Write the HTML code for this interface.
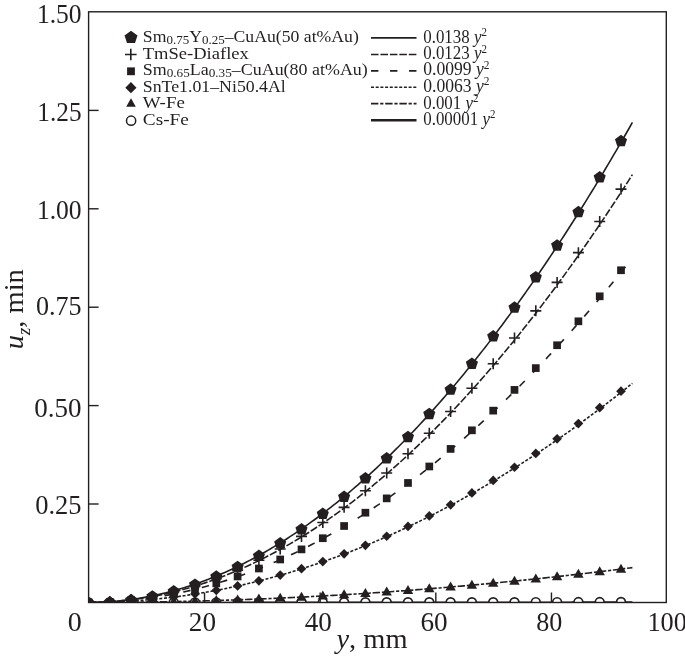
<!DOCTYPE html>
<html><head><meta charset="utf-8"><style>
html,body{margin:0;padding:0;background:#fff;}
svg{display:block;will-change:transform;}
text{font-family:"Liberation Serif",serif;fill:#231f20;}
</style></head><body>
<svg width="685" height="656" viewBox="0 0 685 656">
<defs><clipPath id="pc"><rect x="88.6" y="11.8" width="577.6999999999999" height="590.7"/></clipPath></defs>
<g clip-path="url(#pc)" fill="#231f20">
<path d="M88.90,602.40 L91.62,602.39 L94.34,602.35 L97.05,602.29 L99.77,602.21 L102.49,602.10 L105.21,601.97 L107.92,601.81 L110.64,601.63 L113.36,601.43 L116.08,601.20 L118.79,600.95 L121.51,600.67 L124.23,600.37 L126.95,600.05 L129.66,599.70 L132.38,599.33 L135.10,598.93 L137.82,598.51 L140.53,598.07 L143.25,597.60 L145.97,597.11 L148.69,596.59 L151.40,596.05 L154.12,595.49 L156.84,594.90 L159.56,594.29 L162.27,593.65 L164.99,592.99 L167.71,592.31 L170.43,591.60 L173.14,590.87 L175.86,590.11 L178.58,589.33 L181.30,588.53 L184.01,587.70 L186.73,586.85 L189.45,585.97 L192.17,585.07 L194.88,584.15 L197.60,583.20 L200.32,582.23 L203.04,581.23 L205.75,580.21 L208.47,579.17 L211.19,578.10 L213.91,577.01 L216.62,575.90 L219.34,574.76 L222.06,573.59 L224.78,572.40 L227.49,571.19 L230.21,569.96 L232.93,568.70 L235.65,567.41 L238.36,566.10 L241.08,564.77 L243.80,563.42 L246.52,562.04 L249.23,560.63 L251.95,559.21 L254.67,557.75 L257.39,556.28 L260.11,554.78 L262.82,553.25 L265.54,551.71 L268.26,550.13 L270.98,548.54 L273.69,546.92 L276.41,545.27 L279.13,543.61 L281.85,541.92 L284.56,540.20 L287.28,538.46 L290.00,536.70 L292.72,534.91 L295.43,533.10 L298.15,531.26 L300.87,529.40 L303.59,527.52 L306.30,525.61 L309.02,523.68 L311.74,521.72 L314.46,519.74 L317.17,517.74 L319.89,515.71 L322.61,513.66 L325.33,511.58 L328.04,509.48 L330.76,507.36 L333.48,505.21 L336.20,503.04 L338.91,500.84 L341.63,498.62 L344.35,496.38 L347.07,494.11 L349.78,491.82 L352.50,489.51 L355.22,487.17 L357.94,484.80 L360.65,482.41 L363.37,480.00 L366.09,477.57 L368.81,475.11 L371.52,472.62 L374.24,470.12 L376.96,467.58 L379.68,465.03 L382.39,462.45 L385.11,459.84 L387.83,457.22 L390.55,454.57 L393.26,451.89 L395.98,449.19 L398.70,446.47 L401.42,443.72 L404.13,440.95 L406.85,438.15 L409.57,435.33 L412.29,432.49 L415.00,429.62 L417.72,426.73 L420.44,423.81 L423.16,420.87 L425.87,417.91 L428.59,414.92 L431.31,411.91 L434.03,408.87 L436.75,405.82 L439.46,402.73 L442.18,399.62 L444.90,396.49 L447.62,393.34 L450.33,390.16 L453.05,386.95 L455.77,383.73 L458.49,380.47 L461.20,377.20 L463.92,373.90 L466.64,370.58 L469.36,367.23 L472.07,363.86 L474.79,360.46 L477.51,357.04 L480.23,353.60 L482.94,350.13 L485.66,346.64 L488.38,343.12 L491.10,339.58 L493.81,336.02 L496.53,332.43 L499.25,328.82 L501.97,325.18 L504.68,321.53 L507.40,317.84 L510.12,314.13 L512.84,310.40 L515.55,306.65 L518.27,302.87 L520.99,299.06 L523.71,295.24 L526.42,291.38 L529.14,287.51 L531.86,283.61 L534.58,279.69 L537.29,275.74 L540.01,271.77 L542.73,267.77 L545.45,263.75 L548.16,259.71 L550.88,255.64 L553.60,251.55 L556.32,247.43 L559.03,243.29 L561.75,239.13 L564.47,234.94 L567.19,230.73 L569.90,226.50 L572.62,222.24 L575.34,217.95 L578.06,213.65 L580.77,209.31 L583.49,204.96 L586.21,200.58 L588.93,196.18 L591.64,191.75 L594.36,187.30 L597.08,182.82 L599.80,178.32 L602.52,173.80 L605.23,169.25 L607.95,164.68 L610.67,160.08 L613.39,155.46 L616.10,150.82 L618.82,146.15 L621.54,141.46 L624.26,136.75 L626.97,132.01 L629.69,127.24 L632.41,122.46" fill="none" stroke="#231f20" stroke-width="1.6"/>
<path d="M88.90,602.40 L91.62,602.39 L94.34,602.36 L97.05,602.30 L99.77,602.23 L102.49,602.13 L105.21,602.02 L107.92,601.88 L110.64,601.72 L113.36,601.53 L116.08,601.33 L118.79,601.11 L121.51,600.86 L124.23,600.59 L126.95,600.30 L129.66,599.99 L132.38,599.66 L135.10,599.31 L137.82,598.94 L140.53,598.54 L143.25,598.12 L145.97,597.68 L148.69,597.22 L151.40,596.74 L154.12,596.24 L156.84,595.72 L159.56,595.17 L162.27,594.60 L164.99,594.02 L167.71,593.41 L170.43,592.78 L173.14,592.12 L175.86,591.45 L178.58,590.75 L181.30,590.04 L184.01,589.30 L186.73,588.54 L189.45,587.76 L192.17,586.96 L194.88,586.13 L197.60,585.29 L200.32,584.42 L203.04,583.54 L205.75,582.63 L208.47,581.70 L211.19,580.74 L213.91,579.77 L216.62,578.78 L219.34,577.76 L222.06,576.72 L224.78,575.66 L227.49,574.58 L230.21,573.48 L232.93,572.36 L235.65,571.22 L238.36,570.05 L241.08,568.86 L243.80,567.65 L246.52,566.42 L249.23,565.17 L251.95,563.90 L254.67,562.61 L257.39,561.29 L260.11,559.95 L262.82,558.60 L265.54,557.22 L268.26,555.82 L270.98,554.39 L273.69,552.95 L276.41,551.48 L279.13,550.00 L281.85,548.49 L284.56,546.96 L287.28,545.41 L290.00,543.84 L292.72,542.24 L295.43,540.63 L298.15,538.99 L300.87,537.34 L303.59,535.66 L306.30,533.96 L309.02,532.23 L311.74,530.49 L314.46,528.73 L317.17,526.94 L319.89,525.13 L322.61,523.30 L325.33,521.45 L328.04,519.58 L330.76,517.69 L333.48,515.78 L336.20,513.84 L338.91,511.88 L341.63,509.90 L344.35,507.90 L347.07,505.88 L349.78,503.84 L352.50,501.78 L355.22,499.69 L357.94,497.58 L360.65,495.46 L363.37,493.31 L366.09,491.14 L368.81,488.94 L371.52,486.73 L374.24,484.49 L376.96,482.24 L379.68,479.96 L382.39,477.66 L385.11,475.34 L387.83,473.00 L390.55,470.63 L393.26,468.25 L395.98,465.84 L398.70,463.42 L401.42,460.97 L404.13,458.50 L406.85,456.00 L409.57,453.49 L412.29,450.96 L415.00,448.40 L417.72,445.82 L420.44,443.22 L423.16,440.60 L425.87,437.96 L428.59,435.30 L431.31,432.62 L434.03,429.91 L436.75,427.18 L439.46,424.43 L442.18,421.66 L444.90,418.87 L447.62,416.06 L450.33,413.23 L453.05,410.37 L455.77,407.49 L458.49,404.60 L461.20,401.68 L463.92,398.74 L466.64,395.77 L469.36,392.79 L472.07,389.78 L474.79,386.76 L477.51,383.71 L480.23,380.64 L482.94,377.55 L485.66,374.44 L488.38,371.30 L491.10,368.15 L493.81,364.97 L496.53,361.78 L499.25,358.56 L501.97,355.32 L504.68,352.06 L507.40,348.77 L510.12,345.47 L512.84,342.14 L515.55,338.79 L518.27,335.43 L520.99,332.04 L523.71,328.62 L526.42,325.19 L529.14,321.74 L531.86,318.26 L534.58,314.76 L537.29,311.25 L540.01,307.71 L542.73,304.14 L545.45,300.56 L548.16,296.96 L550.88,293.33 L553.60,289.69 L556.32,286.02 L559.03,282.33 L561.75,278.62 L564.47,274.88 L567.19,271.13 L569.90,267.36 L572.62,263.56 L575.34,259.74 L578.06,255.90 L580.77,252.04 L583.49,248.16 L586.21,244.26 L588.93,240.33 L591.64,236.38 L594.36,232.42 L597.08,228.43 L599.80,224.42 L602.52,220.39 L605.23,216.33 L607.95,212.26 L610.67,208.16 L613.39,204.04 L616.10,199.91 L618.82,195.75 L621.54,191.56 L624.26,187.36 L626.97,183.14 L629.69,178.89 L632.41,174.62" fill="none" stroke="#231f20" stroke-width="1.6" stroke-dasharray="7.55 1.9"/>
<path d="M88.90,602.40 L91.62,602.39 L94.34,602.37 L97.05,602.32 L99.77,602.26 L102.49,602.18 L105.21,602.09 L107.92,601.98 L110.64,601.85 L113.36,601.70 L116.08,601.54 L118.79,601.36 L121.51,601.16 L124.23,600.95 L126.95,600.71 L129.66,600.46 L132.38,600.20 L135.10,599.91 L137.82,599.61 L140.53,599.29 L143.25,598.96 L145.97,598.60 L148.69,598.23 L151.40,597.85 L154.12,597.44 L156.84,597.02 L159.56,596.58 L162.27,596.13 L164.99,595.65 L167.71,595.16 L170.43,594.65 L173.14,594.13 L175.86,593.59 L178.58,593.03 L181.30,592.45 L184.01,591.86 L186.73,591.24 L189.45,590.62 L192.17,589.97 L194.88,589.31 L197.60,588.63 L200.32,587.93 L203.04,587.22 L205.75,586.48 L208.47,585.74 L211.19,584.97 L213.91,584.19 L216.62,583.39 L219.34,582.57 L222.06,581.73 L224.78,580.88 L227.49,580.01 L230.21,579.12 L232.93,578.22 L235.65,577.30 L238.36,576.36 L241.08,575.41 L243.80,574.43 L246.52,573.44 L249.23,572.44 L251.95,571.41 L254.67,570.37 L257.39,569.31 L260.11,568.24 L262.82,567.14 L265.54,566.03 L268.26,564.90 L270.98,563.76 L273.69,562.60 L276.41,561.42 L279.13,560.22 L281.85,559.01 L284.56,557.78 L287.28,556.53 L290.00,555.26 L292.72,553.98 L295.43,552.68 L298.15,551.37 L300.87,550.03 L303.59,548.68 L306.30,547.31 L309.02,545.93 L311.74,544.52 L314.46,543.10 L317.17,541.66 L319.89,540.21 L322.61,538.74 L325.33,537.25 L328.04,535.74 L330.76,534.22 L333.48,532.68 L336.20,531.12 L338.91,529.54 L341.63,527.95 L344.35,526.34 L347.07,524.72 L349.78,523.07 L352.50,521.41 L355.22,519.73 L357.94,518.04 L360.65,516.32 L363.37,514.59 L366.09,512.85 L368.81,511.08 L371.52,509.30 L374.24,507.50 L376.96,505.68 L379.68,503.85 L382.39,502.00 L385.11,500.13 L387.83,498.25 L390.55,496.34 L393.26,494.43 L395.98,492.49 L398.70,490.53 L401.42,488.56 L404.13,486.58 L406.85,484.57 L409.57,482.55 L412.29,480.51 L415.00,478.45 L417.72,476.37 L420.44,474.28 L423.16,472.17 L425.87,470.05 L428.59,467.91 L431.31,465.74 L434.03,463.57 L436.75,461.37 L439.46,459.16 L442.18,456.93 L444.90,454.68 L447.62,452.42 L450.33,450.14 L453.05,447.84 L455.77,445.53 L458.49,443.19 L461.20,440.84 L463.92,438.48 L466.64,436.09 L469.36,433.69 L472.07,431.27 L474.79,428.83 L477.51,426.38 L480.23,423.91 L482.94,421.42 L485.66,418.92 L488.38,416.40 L491.10,413.86 L493.81,411.30 L496.53,408.73 L499.25,406.14 L501.97,403.53 L504.68,400.90 L507.40,398.26 L510.12,395.60 L512.84,392.92 L515.55,390.23 L518.27,387.52 L520.99,384.79 L523.71,382.04 L526.42,379.28 L529.14,376.50 L531.86,373.70 L534.58,370.89 L537.29,368.06 L540.01,365.21 L542.73,362.34 L545.45,359.46 L548.16,356.56 L550.88,353.64 L553.60,350.70 L556.32,347.75 L559.03,344.78 L561.75,341.79 L564.47,338.79 L567.19,335.77 L569.90,332.73 L572.62,329.67 L575.34,326.60 L578.06,323.51 L580.77,320.40 L583.49,317.28 L586.21,314.14 L588.93,310.98 L591.64,307.80 L594.36,304.61 L597.08,301.40 L599.80,298.17 L602.52,294.93 L605.23,291.66 L607.95,288.38 L610.67,285.09 L613.39,281.77 L616.10,278.44 L618.82,275.09 L621.54,271.73 L624.26,268.34 L626.97,264.94 L629.69,261.53 L632.41,258.09" fill="none" stroke="#231f20" stroke-width="1.6" stroke-dasharray="7.4 11.63"/>
<path d="M88.90,602.40 L91.62,602.39 L94.34,602.38 L97.05,602.35 L99.77,602.31 L102.49,602.26 L105.21,602.20 L107.92,602.13 L110.64,602.05 L113.36,601.96 L116.08,601.85 L118.79,601.74 L121.51,601.61 L124.23,601.47 L126.95,601.33 L129.66,601.17 L132.38,601.00 L135.10,600.82 L137.82,600.63 L140.53,600.42 L143.25,600.21 L145.97,599.98 L148.69,599.75 L151.40,599.50 L154.12,599.24 L156.84,598.98 L159.56,598.70 L162.27,598.41 L164.99,598.11 L167.71,597.79 L170.43,597.47 L173.14,597.14 L175.86,596.79 L178.58,596.43 L181.30,596.07 L184.01,595.69 L186.73,595.30 L189.45,594.90 L192.17,594.49 L194.88,594.07 L197.60,593.64 L200.32,593.19 L203.04,592.74 L205.75,592.27 L208.47,591.80 L211.19,591.31 L213.91,590.81 L216.62,590.30 L219.34,589.78 L222.06,589.25 L224.78,588.71 L227.49,588.15 L230.21,587.59 L232.93,587.01 L235.65,586.43 L238.36,585.83 L241.08,585.22 L243.80,584.60 L246.52,583.97 L249.23,583.33 L251.95,582.68 L254.67,582.02 L257.39,581.34 L260.11,580.66 L262.82,579.96 L265.54,579.26 L268.26,578.54 L270.98,577.81 L273.69,577.07 L276.41,576.32 L279.13,575.56 L281.85,574.79 L284.56,574.00 L287.28,573.21 L290.00,572.40 L292.72,571.59 L295.43,570.76 L298.15,569.92 L300.87,569.07 L303.59,568.21 L306.30,567.34 L309.02,566.46 L311.74,565.57 L314.46,564.66 L317.17,563.75 L319.89,562.82 L322.61,561.89 L325.33,560.94 L328.04,559.98 L330.76,559.01 L333.48,558.03 L336.20,557.04 L338.91,556.04 L341.63,555.02 L344.35,554.00 L347.07,552.96 L349.78,551.92 L352.50,550.86 L355.22,549.79 L357.94,548.71 L360.65,547.62 L363.37,546.52 L366.09,545.41 L368.81,544.29 L371.52,543.15 L374.24,542.01 L376.96,540.85 L379.68,539.69 L382.39,538.51 L385.11,537.32 L387.83,536.12 L390.55,534.91 L393.26,533.69 L395.98,532.46 L398.70,531.21 L401.42,529.96 L404.13,528.69 L406.85,527.42 L409.57,526.13 L412.29,524.83 L415.00,523.52 L417.72,522.20 L420.44,520.87 L423.16,519.53 L425.87,518.18 L428.59,516.81 L431.31,515.44 L434.03,514.05 L436.75,512.65 L439.46,511.25 L442.18,509.83 L444.90,508.40 L447.62,506.96 L450.33,505.51 L453.05,504.04 L455.77,502.57 L458.49,501.09 L461.20,499.59 L463.92,498.08 L466.64,496.57 L469.36,495.04 L472.07,493.50 L474.79,491.95 L477.51,490.39 L480.23,488.82 L482.94,487.23 L485.66,485.64 L488.38,484.03 L491.10,482.42 L493.81,480.79 L496.53,479.15 L499.25,477.50 L501.97,475.85 L504.68,474.17 L507.40,472.49 L510.12,470.80 L512.84,469.10 L515.55,467.38 L518.27,465.66 L520.99,463.92 L523.71,462.17 L526.42,460.41 L529.14,458.65 L531.86,456.87 L534.58,455.07 L537.29,453.27 L540.01,451.46 L542.73,449.63 L545.45,447.80 L548.16,445.95 L550.88,444.10 L553.60,442.23 L556.32,440.35 L559.03,438.46 L561.75,436.56 L564.47,434.65 L567.19,432.73 L569.90,430.79 L572.62,428.85 L575.34,426.89 L578.06,424.93 L580.77,422.95 L583.49,420.96 L586.21,418.96 L588.93,416.95 L591.64,414.93 L594.36,412.90 L597.08,410.85 L599.80,408.80 L602.52,406.73 L605.23,404.66 L607.95,402.57 L610.67,400.47 L613.39,398.36 L616.10,396.24 L618.82,394.11 L621.54,391.97 L624.26,389.82 L626.97,387.66 L629.69,385.48 L632.41,383.30" fill="none" stroke="#231f20" stroke-width="1.6" stroke-dasharray="3 1.7"/>
<path d="M88.90,602.40 L91.62,602.40 L94.34,602.40 L97.05,602.39 L99.77,602.39 L102.49,602.38 L105.21,602.37 L107.92,602.36 L110.64,602.34 L113.36,602.33 L116.08,602.31 L118.79,602.29 L121.51,602.27 L124.23,602.25 L126.95,602.23 L129.66,602.20 L132.38,602.18 L135.10,602.15 L137.82,602.12 L140.53,602.09 L143.25,602.05 L145.97,602.02 L148.69,601.98 L151.40,601.94 L154.12,601.90 L156.84,601.86 L159.56,601.81 L162.27,601.77 L164.99,601.72 L167.71,601.67 L170.43,601.62 L173.14,601.56 L175.86,601.51 L178.58,601.45 L181.30,601.39 L184.01,601.33 L186.73,601.27 L189.45,601.21 L192.17,601.14 L194.88,601.08 L197.60,601.01 L200.32,600.94 L203.04,600.87 L205.75,600.79 L208.47,600.72 L211.19,600.64 L213.91,600.56 L216.62,600.48 L219.34,600.40 L222.06,600.31 L224.78,600.23 L227.49,600.14 L230.21,600.05 L232.93,599.96 L235.65,599.86 L238.36,599.77 L241.08,599.67 L243.80,599.58 L246.52,599.48 L249.23,599.37 L251.95,599.27 L254.67,599.16 L257.39,599.06 L260.11,598.95 L262.82,598.84 L265.54,598.73 L268.26,598.61 L270.98,598.50 L273.69,598.38 L276.41,598.26 L279.13,598.14 L281.85,598.02 L284.56,597.89 L287.28,597.77 L290.00,597.64 L292.72,597.51 L295.43,597.38 L298.15,597.24 L300.87,597.11 L303.59,596.97 L306.30,596.84 L309.02,596.70 L311.74,596.55 L314.46,596.41 L317.17,596.27 L319.89,596.12 L322.61,595.97 L325.33,595.82 L328.04,595.67 L330.76,595.51 L333.48,595.36 L336.20,595.20 L338.91,595.04 L341.63,594.88 L344.35,594.72 L347.07,594.55 L349.78,594.39 L352.50,594.22 L355.22,594.05 L357.94,593.88 L360.65,593.71 L363.37,593.53 L366.09,593.35 L368.81,593.18 L371.52,593.00 L374.24,592.81 L376.96,592.63 L379.68,592.45 L382.39,592.26 L385.11,592.07 L387.83,591.88 L390.55,591.69 L393.26,591.49 L395.98,591.30 L398.70,591.10 L401.42,590.90 L404.13,590.70 L406.85,590.50 L409.57,590.29 L412.29,590.09 L415.00,589.88 L417.72,589.67 L420.44,589.46 L423.16,589.25 L425.87,589.03 L428.59,588.81 L431.31,588.60 L434.03,588.38 L436.75,588.15 L439.46,587.93 L442.18,587.71 L444.90,587.48 L447.62,587.25 L450.33,587.02 L453.05,586.79 L455.77,586.55 L458.49,586.32 L461.20,586.08 L463.92,585.84 L466.64,585.60 L469.36,585.36 L472.07,585.11 L474.79,584.87 L477.51,584.62 L480.23,584.37 L482.94,584.12 L485.66,583.87 L488.38,583.61 L491.10,583.36 L493.81,583.10 L496.53,582.84 L499.25,582.58 L501.97,582.31 L504.68,582.05 L507.40,581.78 L510.12,581.51 L512.84,581.24 L515.55,580.97 L518.27,580.69 L520.99,580.42 L523.71,580.14 L526.42,579.86 L529.14,579.58 L531.86,579.30 L534.58,579.01 L537.29,578.73 L540.01,578.44 L542.73,578.15 L545.45,577.86 L548.16,577.57 L550.88,577.27 L553.60,576.98 L556.32,576.68 L559.03,576.38 L561.75,576.08 L564.47,575.77 L567.19,575.47 L569.90,575.16 L572.62,574.85 L575.34,574.54 L578.06,574.23 L580.77,573.92 L583.49,573.60 L586.21,573.28 L588.93,572.96 L591.64,572.64 L594.36,572.32 L597.08,572.00 L599.80,571.67 L602.52,571.34 L605.23,571.01 L607.95,570.68 L610.67,570.35 L613.39,570.01 L616.10,569.68 L618.82,569.34 L621.54,569.00 L624.26,568.66 L626.97,568.31 L629.69,567.97 L632.41,567.62" fill="none" stroke="#231f20" stroke-width="1.6" stroke-dasharray="7.4 1.8 3.2 1.8"/>
<path d="M88.90,602.90 L91.62,602.90 L94.34,602.90 L97.05,602.90 L99.77,602.90 L102.49,602.90 L105.21,602.90 L107.92,602.90 L110.64,602.90 L113.36,602.90 L116.08,602.90 L118.79,602.90 L121.51,602.90 L124.23,602.90 L126.95,602.90 L129.66,602.90 L132.38,602.90 L135.10,602.90 L137.82,602.90 L140.53,602.90 L143.25,602.90 L145.97,602.90 L148.69,602.90 L151.40,602.90 L154.12,602.89 L156.84,602.89 L159.56,602.89 L162.27,602.89 L164.99,602.89 L167.71,602.89 L170.43,602.89 L173.14,602.89 L175.86,602.89 L178.58,602.89 L181.30,602.89 L184.01,602.89 L186.73,602.89 L189.45,602.89 L192.17,602.89 L194.88,602.89 L197.60,602.89 L200.32,602.89 L203.04,602.88 L205.75,602.88 L208.47,602.88 L211.19,602.88 L213.91,602.88 L216.62,602.88 L219.34,602.88 L222.06,602.88 L224.78,602.88 L227.49,602.88 L230.21,602.88 L232.93,602.88 L235.65,602.87 L238.36,602.87 L241.08,602.87 L243.80,602.87 L246.52,602.87 L249.23,602.87 L251.95,602.87 L254.67,602.87 L257.39,602.87 L260.11,602.87 L262.82,602.86 L265.54,602.86 L268.26,602.86 L270.98,602.86 L273.69,602.86 L276.41,602.86 L279.13,602.86 L281.85,602.86 L284.56,602.85 L287.28,602.85 L290.00,602.85 L292.72,602.85 L295.43,602.85 L298.15,602.85 L300.87,602.85 L303.59,602.85 L306.30,602.84 L309.02,602.84 L311.74,602.84 L314.46,602.84 L317.17,602.84 L319.89,602.84 L322.61,602.84 L325.33,602.83 L328.04,602.83 L330.76,602.83 L333.48,602.83 L336.20,602.83 L338.91,602.83 L341.63,602.82 L344.35,602.82 L347.07,602.82 L349.78,602.82 L352.50,602.82 L355.22,602.82 L357.94,602.81 L360.65,602.81 L363.37,602.81 L366.09,602.81 L368.81,602.81 L371.52,602.81 L374.24,602.80 L376.96,602.80 L379.68,602.80 L382.39,602.80 L385.11,602.80 L387.83,602.79 L390.55,602.79 L393.26,602.79 L395.98,602.79 L398.70,602.79 L401.42,602.79 L404.13,602.78 L406.85,602.78 L409.57,602.78 L412.29,602.78 L415.00,602.77 L417.72,602.77 L420.44,602.77 L423.16,602.77 L425.87,602.77 L428.59,602.76 L431.31,602.76 L434.03,602.76 L436.75,602.76 L439.46,602.76 L442.18,602.75 L444.90,602.75 L447.62,602.75 L450.33,602.75 L453.05,602.74 L455.77,602.74 L458.49,602.74 L461.20,602.74 L463.92,602.73 L466.64,602.73 L469.36,602.73 L472.07,602.73 L474.79,602.72 L477.51,602.72 L480.23,602.72 L482.94,602.72 L485.66,602.71 L488.38,602.71 L491.10,602.71 L493.81,602.71 L496.53,602.70 L499.25,602.70 L501.97,602.70 L504.68,602.70 L507.40,602.69 L510.12,602.69 L512.84,602.69 L515.55,602.69 L518.27,602.68 L520.99,602.68 L523.71,602.68 L526.42,602.67 L529.14,602.67 L531.86,602.67 L534.58,602.67 L537.29,602.66 L540.01,602.66 L542.73,602.66 L545.45,602.65 L548.16,602.65 L550.88,602.65 L553.60,602.65 L556.32,602.64 L559.03,602.64 L561.75,602.64 L564.47,602.63 L567.19,602.63 L569.90,602.63 L572.62,602.62 L575.34,602.62 L578.06,602.62 L580.77,602.62 L583.49,602.61 L586.21,602.61 L588.93,602.61 L591.64,602.60 L594.36,602.60 L597.08,602.60 L599.80,602.59 L602.52,602.59 L605.23,602.59 L607.95,602.58 L610.67,602.58 L613.39,602.58 L616.10,602.57 L618.82,602.57 L621.54,602.57 L624.26,602.56 L626.97,602.56 L629.69,602.56 L632.41,602.55" fill="none" stroke="#231f20" stroke-width="2.5"/>
<circle cx="88.50" cy="602.40" r="4.4" fill="#fff" stroke="#231f20" stroke-width="1.7"/>
<circle cx="109.80" cy="602.40" r="4.4" fill="#fff" stroke="#231f20" stroke-width="1.7"/>
<circle cx="131.10" cy="602.40" r="4.4" fill="#fff" stroke="#231f20" stroke-width="1.7"/>
<circle cx="152.40" cy="602.40" r="4.4" fill="#fff" stroke="#231f20" stroke-width="1.7"/>
<circle cx="173.70" cy="602.39" r="4.4" fill="#fff" stroke="#231f20" stroke-width="1.7"/>
<circle cx="195.00" cy="602.39" r="4.4" fill="#fff" stroke="#231f20" stroke-width="1.7"/>
<circle cx="216.30" cy="602.38" r="4.4" fill="#fff" stroke="#231f20" stroke-width="1.7"/>
<circle cx="237.60" cy="602.37" r="4.4" fill="#fff" stroke="#231f20" stroke-width="1.7"/>
<circle cx="258.90" cy="602.37" r="4.4" fill="#fff" stroke="#231f20" stroke-width="1.7"/>
<circle cx="280.20" cy="602.36" r="4.4" fill="#fff" stroke="#231f20" stroke-width="1.7"/>
<circle cx="301.50" cy="602.35" r="4.4" fill="#fff" stroke="#231f20" stroke-width="1.7"/>
<circle cx="322.80" cy="602.34" r="4.4" fill="#fff" stroke="#231f20" stroke-width="1.7"/>
<circle cx="344.10" cy="602.32" r="4.4" fill="#fff" stroke="#231f20" stroke-width="1.7"/>
<circle cx="365.40" cy="602.31" r="4.4" fill="#fff" stroke="#231f20" stroke-width="1.7"/>
<circle cx="386.70" cy="602.30" r="4.4" fill="#fff" stroke="#231f20" stroke-width="1.7"/>
<circle cx="408.00" cy="602.28" r="4.4" fill="#fff" stroke="#231f20" stroke-width="1.7"/>
<circle cx="429.30" cy="602.26" r="4.4" fill="#fff" stroke="#231f20" stroke-width="1.7"/>
<circle cx="450.60" cy="602.25" r="4.4" fill="#fff" stroke="#231f20" stroke-width="1.7"/>
<circle cx="471.90" cy="602.23" r="4.4" fill="#fff" stroke="#231f20" stroke-width="1.7"/>
<circle cx="493.20" cy="602.21" r="4.4" fill="#fff" stroke="#231f20" stroke-width="1.7"/>
<circle cx="514.50" cy="602.19" r="4.4" fill="#fff" stroke="#231f20" stroke-width="1.7"/>
<circle cx="535.80" cy="602.16" r="4.4" fill="#fff" stroke="#231f20" stroke-width="1.7"/>
<circle cx="557.10" cy="602.14" r="4.4" fill="#fff" stroke="#231f20" stroke-width="1.7"/>
<circle cx="578.40" cy="602.12" r="4.4" fill="#fff" stroke="#231f20" stroke-width="1.7"/>
<circle cx="599.70" cy="602.09" r="4.4" fill="#fff" stroke="#231f20" stroke-width="1.7"/>
<circle cx="621.00" cy="602.07" r="4.4" fill="#fff" stroke="#231f20" stroke-width="1.7"/>
<polygon points="88.50,597.00 93.70,606.00 83.30,606.00"/>
<polygon points="109.80,596.95 115.00,605.95 104.60,605.95"/>
<polygon points="131.10,596.79 136.30,605.79 125.90,605.79"/>
<polygon points="152.40,596.53 157.60,605.53 147.20,605.53"/>
<polygon points="173.70,596.15 178.90,605.15 168.50,605.15"/>
<polygon points="195.00,595.67 200.20,604.67 189.80,604.67"/>
<polygon points="216.30,595.09 221.50,604.09 211.10,604.09"/>
<polygon points="237.60,594.40 242.80,603.40 232.40,603.40"/>
<polygon points="258.90,593.60 264.10,602.60 253.70,602.60"/>
<polygon points="280.20,592.69 285.40,601.69 275.00,601.69"/>
<polygon points="301.50,591.68 306.70,600.68 296.30,600.68"/>
<polygon points="322.80,590.56 328.00,599.56 317.60,599.56"/>
<polygon points="344.10,589.33 349.30,598.33 338.90,598.33"/>
<polygon points="365.40,588.00 370.60,597.00 360.20,597.00"/>
<polygon points="386.70,586.56 391.90,595.56 381.50,595.56"/>
<polygon points="408.00,585.01 413.20,594.01 402.80,594.01"/>
<polygon points="429.30,583.36 434.50,592.36 424.10,592.36"/>
<polygon points="450.60,581.60 455.80,590.60 445.40,590.60"/>
<polygon points="471.90,579.73 477.10,588.73 466.70,588.73"/>
<polygon points="493.20,577.76 498.40,586.76 488.00,586.76"/>
<polygon points="514.50,575.67 519.70,584.67 509.30,584.67"/>
<polygon points="535.80,573.49 541.00,582.49 530.60,582.49"/>
<polygon points="557.10,571.19 562.30,580.19 551.90,580.19"/>
<polygon points="578.40,568.79 583.60,577.79 573.20,577.79"/>
<polygon points="599.70,566.28 604.90,575.28 594.50,575.28"/>
<polygon points="621.00,563.67 626.20,572.67 615.80,572.67"/>
<polygon points="88.50,597.55 93.35,602.40 88.50,607.25 83.65,602.40"/>
<polygon points="109.80,597.22 114.65,602.07 109.80,606.92 104.95,602.07"/>
<polygon points="131.10,596.22 135.95,601.07 131.10,605.92 126.25,601.07"/>
<polygon points="152.40,594.54 157.25,599.39 152.40,604.24 147.55,599.39"/>
<polygon points="173.70,592.18 178.55,597.03 173.70,601.88 168.85,597.03"/>
<polygon points="195.00,589.15 199.85,594.00 195.00,598.85 190.15,594.00"/>
<polygon points="216.30,585.44 221.15,590.29 216.30,595.14 211.45,590.29"/>
<polygon points="237.60,581.05 242.45,585.90 237.60,590.75 232.75,585.90"/>
<polygon points="258.90,575.99 263.75,580.84 258.90,585.69 254.05,580.84"/>
<polygon points="280.20,570.24 285.05,575.09 280.20,579.94 275.35,575.09"/>
<polygon points="301.50,563.82 306.35,568.67 301.50,573.52 296.65,568.67"/>
<polygon points="322.80,556.73 327.65,561.58 322.80,566.43 317.95,561.58"/>
<polygon points="344.10,548.95 348.95,553.80 344.10,558.65 339.25,553.80"/>
<polygon points="365.40,540.50 370.25,545.35 365.40,550.20 360.55,545.35"/>
<polygon points="386.70,531.38 391.55,536.23 386.70,541.08 381.85,536.23"/>
<polygon points="408.00,521.57 412.85,526.42 408.00,531.27 403.15,526.42"/>
<polygon points="429.30,511.09 434.15,515.94 429.30,520.79 424.45,515.94"/>
<polygon points="450.60,499.93 455.45,504.78 450.60,509.63 445.75,504.78"/>
<polygon points="471.90,488.10 476.75,492.95 471.90,497.80 467.05,492.95"/>
<polygon points="493.20,475.58 498.05,480.43 493.20,485.28 488.35,480.43"/>
<polygon points="514.50,462.39 519.35,467.24 514.50,472.09 509.65,467.24"/>
<polygon points="535.80,448.53 540.65,453.38 535.80,458.23 530.95,453.38"/>
<polygon points="557.10,433.98 561.95,438.83 557.10,443.68 552.25,438.83"/>
<polygon points="578.40,418.76 583.25,423.61 578.40,428.46 573.55,423.61"/>
<polygon points="599.70,402.86 604.55,407.71 599.70,412.56 594.85,407.71"/>
<polygon points="621.00,386.29 625.85,391.14 621.00,395.99 616.15,391.14"/>
<rect x="84.65" y="598.55" width="7.70" height="7.70"/>
<rect x="105.95" y="598.04" width="7.70" height="7.70"/>
<rect x="127.25" y="596.46" width="7.70" height="7.70"/>
<rect x="148.55" y="593.82" width="7.70" height="7.70"/>
<rect x="169.85" y="590.11" width="7.70" height="7.70"/>
<rect x="191.15" y="585.34" width="7.70" height="7.70"/>
<rect x="212.45" y="579.51" width="7.70" height="7.70"/>
<rect x="233.75" y="572.61" width="7.70" height="7.70"/>
<rect x="255.05" y="564.65" width="7.70" height="7.70"/>
<rect x="276.35" y="555.62" width="7.70" height="7.70"/>
<rect x="297.65" y="545.53" width="7.70" height="7.70"/>
<rect x="318.95" y="534.37" width="7.70" height="7.70"/>
<rect x="340.25" y="522.15" width="7.70" height="7.70"/>
<rect x="361.55" y="508.86" width="7.70" height="7.70"/>
<rect x="382.85" y="494.51" width="7.70" height="7.70"/>
<rect x="404.15" y="479.10" width="7.70" height="7.70"/>
<rect x="425.45" y="462.62" width="7.70" height="7.70"/>
<rect x="446.75" y="445.07" width="7.70" height="7.70"/>
<rect x="468.05" y="426.46" width="7.70" height="7.70"/>
<rect x="489.35" y="406.79" width="7.70" height="7.70"/>
<rect x="510.65" y="386.05" width="7.70" height="7.70"/>
<rect x="531.95" y="364.25" width="7.70" height="7.70"/>
<rect x="553.25" y="341.39" width="7.70" height="7.70"/>
<rect x="574.55" y="317.45" width="7.70" height="7.70"/>
<rect x="595.85" y="292.46" width="7.70" height="7.70"/>
<rect x="617.15" y="266.40" width="7.70" height="7.70"/>
<path d="M83.00,602.40H94.00M88.50,596.90V607.90" stroke="#231f20" stroke-width="1.6" fill="none"/>
<path d="M104.30,601.76H115.30M109.80,596.26V607.26" stroke="#231f20" stroke-width="1.6" fill="none"/>
<path d="M125.60,599.80H136.60M131.10,594.30V605.30" stroke="#231f20" stroke-width="1.6" fill="none"/>
<path d="M146.90,596.51H157.90M152.40,591.01V602.01" stroke="#231f20" stroke-width="1.6" fill="none"/>
<path d="M168.20,591.90H179.20M173.70,586.40V597.40" stroke="#231f20" stroke-width="1.6" fill="none"/>
<path d="M189.50,585.97H200.50M195.00,580.47V591.47" stroke="#231f20" stroke-width="1.6" fill="none"/>
<path d="M210.80,578.71H221.80M216.30,573.21V584.21" stroke="#231f20" stroke-width="1.6" fill="none"/>
<path d="M232.10,570.12H243.10M237.60,564.62V575.62" stroke="#231f20" stroke-width="1.6" fill="none"/>
<path d="M253.40,560.21H264.40M258.90,554.71V565.71" stroke="#231f20" stroke-width="1.6" fill="none"/>
<path d="M274.70,548.98H285.70M280.20,543.48V554.48" stroke="#231f20" stroke-width="1.6" fill="none"/>
<path d="M296.00,536.42H307.00M301.50,530.92V541.92" stroke="#231f20" stroke-width="1.6" fill="none"/>
<path d="M317.30,522.54H328.30M322.80,517.04V528.04" stroke="#231f20" stroke-width="1.6" fill="none"/>
<path d="M338.60,507.33H349.60M344.10,501.83V512.83" stroke="#231f20" stroke-width="1.6" fill="none"/>
<path d="M359.90,490.80H370.90M365.40,485.30V496.30" stroke="#231f20" stroke-width="1.6" fill="none"/>
<path d="M381.20,472.95H392.20M386.70,467.45V478.45" stroke="#231f20" stroke-width="1.6" fill="none"/>
<path d="M402.50,453.77H413.50M408.00,448.27V459.27" stroke="#231f20" stroke-width="1.6" fill="none"/>
<path d="M423.80,433.26H434.80M429.30,427.76V438.76" stroke="#231f20" stroke-width="1.6" fill="none"/>
<path d="M445.10,411.43H456.10M450.60,405.93V416.93" stroke="#231f20" stroke-width="1.6" fill="none"/>
<path d="M466.40,388.28H477.40M471.90,382.78V393.78" stroke="#231f20" stroke-width="1.6" fill="none"/>
<path d="M487.70,363.80H498.70M493.20,358.30V369.30" stroke="#231f20" stroke-width="1.6" fill="none"/>
<path d="M509.00,338.00H520.00M514.50,332.50V343.50" stroke="#231f20" stroke-width="1.6" fill="none"/>
<path d="M530.30,310.87H541.30M535.80,305.37V316.37" stroke="#231f20" stroke-width="1.6" fill="none"/>
<path d="M551.60,282.42H562.60M557.10,276.92V287.92" stroke="#231f20" stroke-width="1.6" fill="none"/>
<path d="M572.90,252.64H583.90M578.40,247.14V258.14" stroke="#231f20" stroke-width="1.6" fill="none"/>
<path d="M594.20,221.54H605.20M599.70,216.04V227.04" stroke="#231f20" stroke-width="1.6" fill="none"/>
<path d="M615.50,189.11H626.50M621.00,183.61V194.61" stroke="#231f20" stroke-width="1.6" fill="none"/>
<polygon points="88.50,596.75 94.54,601.14 92.23,608.24 84.77,608.24 82.46,601.14"/>
<polygon points="109.80,596.04 115.84,600.43 113.53,607.52 106.07,607.52 103.76,600.43"/>
<polygon points="131.10,593.84 137.14,598.23 134.83,605.33 127.37,605.33 125.06,598.23"/>
<polygon points="152.40,590.17 158.44,594.56 156.13,601.66 148.67,601.66 146.36,594.56"/>
<polygon points="173.70,585.02 179.74,589.41 177.43,596.51 169.97,596.51 167.66,589.41"/>
<polygon points="195.00,578.39 201.04,582.77 198.73,589.87 191.27,589.87 188.96,582.77"/>
<polygon points="216.30,570.27 222.34,574.66 220.03,581.76 212.57,581.76 210.26,574.66"/>
<polygon points="237.60,560.68 243.64,565.07 241.33,572.17 233.87,572.17 231.56,565.07"/>
<polygon points="258.90,549.60 264.94,553.99 262.63,561.09 255.17,561.09 252.86,553.99"/>
<polygon points="280.20,537.05 286.24,541.44 283.93,548.54 276.47,548.54 274.16,541.44"/>
<polygon points="301.50,523.02 307.54,527.40 305.23,534.50 297.77,534.50 295.46,527.40"/>
<polygon points="322.80,507.50 328.84,511.89 326.53,518.99 319.07,518.99 316.76,511.89"/>
<polygon points="344.10,490.51 350.14,494.89 347.83,501.99 340.37,501.99 338.06,494.89"/>
<polygon points="365.40,472.03 371.44,476.42 369.13,483.52 361.67,483.52 359.36,476.42"/>
<polygon points="386.70,452.08 392.74,456.46 390.43,463.56 382.97,463.56 380.66,456.46"/>
<polygon points="408.00,430.64 414.04,435.03 411.73,442.13 404.27,442.13 401.96,435.03"/>
<polygon points="429.30,407.73 435.34,412.11 433.03,419.21 425.57,419.21 423.26,412.11"/>
<polygon points="450.60,383.33 456.64,387.72 454.33,394.82 446.87,394.82 444.56,387.72"/>
<polygon points="471.90,357.45 477.94,361.84 475.63,368.94 468.17,368.94 465.86,361.84"/>
<polygon points="493.20,330.10 499.24,334.48 496.93,341.58 489.47,341.58 487.16,334.48"/>
<polygon points="514.50,301.26 520.54,305.65 518.23,312.75 510.77,312.75 508.46,305.65"/>
<polygon points="535.80,270.94 541.84,275.33 539.53,282.43 532.07,282.43 529.76,275.33"/>
<polygon points="557.10,239.15 563.14,243.53 560.83,250.63 553.37,250.63 551.06,243.53"/>
<polygon points="578.40,205.87 584.44,210.26 582.13,217.36 574.67,217.36 572.36,210.26"/>
<polygon points="599.70,171.11 605.74,175.50 603.43,182.60 595.97,182.60 593.66,175.50"/>
<polygon points="621.00,134.87 627.04,139.26 624.73,146.36 617.27,146.36 614.96,139.26"/>
</g>
<g fill="#231f20">
<polygon points="131.00,30.80 137.47,35.50 135.00,43.10 127.00,43.10 124.53,35.50"/>
<text x="142.8" y="42.3" font-size="17" textLength="216" lengthAdjust="spacingAndGlyphs">Sm<tspan font-size="12.5" dy="2">0.75</tspan><tspan dy="-2">Y</tspan><tspan font-size="12.5" dy="2">0.25</tspan><tspan dy="-2">–CuAu(50 at%Au)</tspan></text>
<path d="M371,37.9H416.5" stroke="#231f20" stroke-width="1.6" fill="none"/>
<text transform="translate(423.2,42.5) scale(0.95,1)" font-size="17.8">0.0138 <tspan font-style="italic">y</tspan><tspan font-size="11.5" dy="-6.5">2</tspan></text>
<path d="M125.00,54.50H136.60M130.80,48.70V60.30" stroke="#231f20" stroke-width="1.6" fill="none"/>
<text x="142.8" y="58.8" font-size="17" textLength="106" lengthAdjust="spacingAndGlyphs">TmSe-Diaflex</text>
<path d="M371,54.5H416.5" stroke="#231f20" stroke-width="1.6" stroke-dasharray="7.55 1.9" fill="none"/>
<text transform="translate(423.2,59.0) scale(0.95,1)" font-size="17.8">0.0123 <tspan font-style="italic">y</tspan><tspan font-size="11.5" dy="-6.5">2</tspan></text>
<rect x="127.10" y="67.40" width="7.80" height="7.80"/>
<text x="142.8" y="75.2" font-size="17" textLength="225" lengthAdjust="spacingAndGlyphs">Sm<tspan font-size="12.5" dy="2">0.65</tspan><tspan dy="-2">La</tspan><tspan font-size="12.5" dy="2">0.35</tspan><tspan dy="-2">–CuAu(80 at%Au)</tspan></text>
<path d="M371,70.9H416.5" stroke="#231f20" stroke-width="1.6" stroke-dasharray="7.4 11.63" fill="none"/>
<text transform="translate(423.2,75.4) scale(0.99,1)" font-size="17.8">0.0099 <tspan font-style="italic">y</tspan><tspan font-size="11.5" dy="-6.5">2</tspan></text>
<polygon points="130.90,82.10 136.50,87.70 130.90,93.30 125.30,87.70"/>
<text x="142.8" y="91.6" font-size="17" textLength="143" lengthAdjust="spacingAndGlyphs">SnTe1.01–Ni50.4Al</text>
<path d="M371,87.2H416.5" stroke="#231f20" stroke-width="1.6" stroke-dasharray="3 1.7" fill="none"/>
<text transform="translate(423.2,91.8) scale(0.99,1)" font-size="17.8">0.0063 <tspan font-style="italic">y</tspan><tspan font-size="11.5" dy="-6.5">2</tspan></text>
<polygon points="131.00,98.26 135.80,106.66 126.20,106.66"/>
<text x="142.8" y="108.3" font-size="17" textLength="42" lengthAdjust="spacingAndGlyphs">W-Fe</text>
<path d="M371,103.6H416.5" stroke="#231f20" stroke-width="1.6" stroke-dasharray="7.4 1.8 3.2 1.8" fill="none"/>
<text transform="translate(423.2,108.5) scale(0.95,1)" font-size="17.8">0.001 <tspan font-style="italic">y</tspan><tspan font-size="11.5" dy="-6.5">2</tspan></text>
<circle cx="131.10" cy="120.70" r="4.6" fill="#fff" stroke="#231f20" stroke-width="1.5"/>
<text x="142.8" y="124.7" font-size="17" textLength="46" lengthAdjust="spacingAndGlyphs">Cs-Fe</text>
<path d="M371,120.3H416.5" stroke="#231f20" stroke-width="2.5" fill="none"/>
<text transform="translate(423.2,124.9) scale(0.95,1)" font-size="17.8">0.00001 <tspan font-style="italic">y</tspan><tspan font-size="11.5" dy="-6.5">2</tspan></text>
</g>
<rect x="88.6" y="11.8" width="577.6999999999999" height="590.7" fill="none" stroke="#231f20" stroke-width="1.4"/>
<path d="M88.6,504.00H98.6" stroke="#231f20" stroke-width="1.4"/>
<path d="M88.6,405.60H98.6" stroke="#231f20" stroke-width="1.4"/>
<path d="M88.6,307.20H98.6" stroke="#231f20" stroke-width="1.4"/>
<path d="M88.6,208.80H98.6" stroke="#231f20" stroke-width="1.4"/>
<path d="M88.6,110.40H98.6" stroke="#231f20" stroke-width="1.4"/>
<path d="M204.54,602.5V592.5" stroke="#231f20" stroke-width="1.4"/>
<path d="M320.18,602.5V592.5" stroke="#231f20" stroke-width="1.4"/>
<path d="M435.82,602.5V592.5" stroke="#231f20" stroke-width="1.4"/>
<path d="M551.46,602.5V592.5" stroke="#231f20" stroke-width="1.4"/>
<text transform="translate(81.6,23.20) scale(0.94,1)" font-size="27.2" text-anchor="end">1.50</text>
<text transform="translate(81.6,120.70) scale(0.93,1)" font-size="27.2" text-anchor="end">1.25</text>
<text transform="translate(81.6,218.70) scale(0.94,1)" font-size="27.2" text-anchor="end">1.00</text>
<text transform="translate(81.6,315.20) scale(0.96,1)" font-size="27.2" text-anchor="end">0.75</text>
<text transform="translate(81.6,416.70) scale(0.995,1)" font-size="27.2" text-anchor="end">0.50</text>
<text transform="translate(81.6,513.70) scale(0.975,1)" font-size="27.2" text-anchor="end">0.25</text>
<text transform="translate(74.80,630.9) scale(1.03,1)" font-size="27.2" text-anchor="middle">0</text>
<text transform="translate(202.40,630.9) scale(1.0,1)" font-size="27.2" text-anchor="middle">20</text>
<text transform="translate(318.30,630.9) scale(1.0,1)" font-size="27.2" text-anchor="middle">40</text>
<text transform="translate(434.00,630.9) scale(1.0,1)" font-size="27.2" text-anchor="middle">60</text>
<text transform="translate(549.20,630.9) scale(0.96,1)" font-size="27.2" text-anchor="middle">80</text>
<text transform="translate(667.20,630.9) scale(0.97,1)" font-size="27.2" text-anchor="middle">100</text>
<text x="336.5" y="648" font-size="27.2" textLength="71" lengthAdjust="spacingAndGlyphs"><tspan font-style="italic">y</tspan>, mm</text>
<text transform="translate(22.8,349.2) rotate(-90)" font-size="27.2" textLength="80" lengthAdjust="spacingAndGlyphs"><tspan font-style="italic">u</tspan><tspan font-style="italic" font-size="18" dy="7">z</tspan><tspan dy="-7">, min</tspan></text>
</svg>
</body></html>
